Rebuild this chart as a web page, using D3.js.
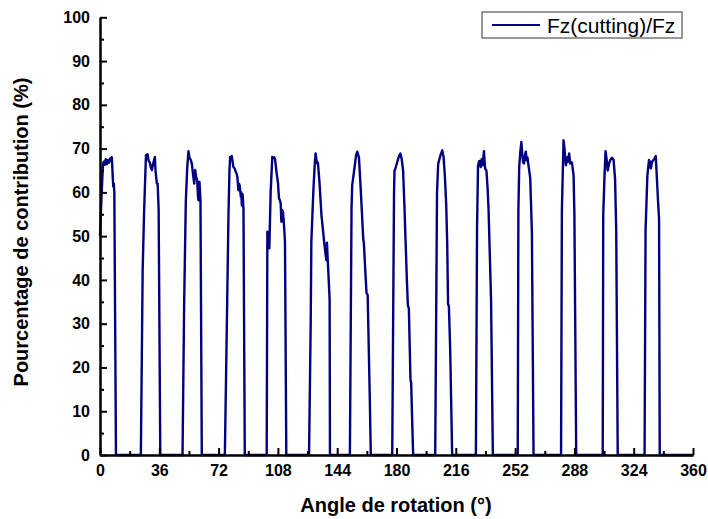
<!DOCTYPE html>
<html>
<head>
<meta charset="utf-8">
<script src="https://cdn.jsdelivr.net/npm/d3@7"></script>
<style>
  html, body { margin: 0; padding: 0; background: #fff; }
  svg { display: block; }
  text { font-family: "Liberation Sans", Arial, sans-serif; }
</style>
</head>
<body>
<svg id="chart" width="708" height="519"></svg>
<script>
// ---- Data ----
const seriesName = "Fz(cutting)/Fz";
const xLabel = "Angle de rotation (°)";
const yLabel = "Pourcentage de contribution (%)";
const xTicks = [0, 36, 72, 108, 144, 180, 216, 252, 288, 324, 360];
const xMinorTicks = [18, 54, 90, 126, 162, 198, 234, 270, 306, 342];
const yTicks = [0, 10, 20, 30, 40, 50, 60, 70, 80, 90, 100];
const yMinorTicks = [5, 15, 25, 35, 45, 55, 65, 75, 85, 95];

const angles = [
  0, 0.8, 1.8, 2.3, 2.9, 3.5, 4.2, 4.8, 5.5, 6.3, 7.2, 7.8, 8.1, 8.4, 8.7, 9.7,
  24.8, 25.9, 26.8, 27.9, 28.9, 29.5, 30.3, 30.9, 31.5, 32.2, 33.3, 33.7, 34.5, 35.0, 35.6, 36.6,
  50.1, 51.1, 52.1, 53.0, 53.7, 54.3, 55.1, 55.8, 56.5, 57.2, 57.8, 58.4, 59.0, 59.5, 59.8, 60.4, 61.0, 61.8,
  75.8, 77.0, 78.0, 78.6, 79.0, 79.5, 80.0, 80.5, 81.0, 81.7, 82.4, 83.0, 83.4, 84.0, 84.4, 84.8, 85.5, 85.8, 86.1, 86.6, 87.1, 87.9,
  101.2, 101.6, 102.2, 102.8, 103.6, 104.6, 105.3, 105.8, 106.3, 107.2, 108.1, 108.4, 108.7, 109.2, 109.7, 110.1, 110.6, 111.1, 111.7, 112.3, 113.1,
  126.9, 127.9, 128.3, 129.5, 130.3, 130.9, 131.5, 131.9, 132.3, 133.3, 134.4, 136.0, 136.9, 137.4, 137.8, 138.2, 138.6, 139.4, 139.6,
  151.7, 152.7, 153.1, 154.7, 155.5, 156.2, 156.8, 157.2, 158.2, 159.8, 160.2, 161.2, 161.8, 162.2, 162.5, 163.8, 164.4,
  177.4, 178.5, 178.8, 179.3, 180.5, 181.5, 182.4, 183.2, 184.0, 184.8, 185.5, 186.3, 186.9, 187.5, 188.5, 188.9, 190.1,
  203.5, 204.6, 205.3, 206.0, 206.8, 207.8, 208.6, 209.4, 210.2, 210.8, 211.3, 211.8, 212.6, 213.8,
  228.2, 228.9, 229.5, 230.3, 231.1, 231.7, 232.3, 233.1, 233.8, 234.6, 235.3, 235.9, 236.7, 237.4, 238.5,
  253.6, 254.0, 254.5, 255.1, 255.8, 256.4, 256.9, 257.4, 258.0, 258.5, 259.0, 259.5, 260.2, 261.2, 262.2, 263.2,
  279.9, 280.4, 281.4, 282.0, 282.4, 282.8, 283.3, 283.8, 284.3, 284.8, 285.5, 286.5, 287.5, 288.0, 289.1,
  305.2, 305.5, 306.3, 306.9, 307.6, 308.2, 309.0, 309.8, 310.8, 311.8, 312.7, 313.4, 314.3,
  330.6, 331.2, 332.3, 333.3, 333.9, 334.4, 335.2, 336.4, 337.4, 338.7, 339.4, 339.8,
  360
];
const values = [
  50, 58, 66.5, 67, 66.3, 67.6, 66.4, 67.4, 66.8, 67.8, 68, 63, 61.3, 62, 60, 0,
  0, 42.2, 56, 68.5, 68.7, 67.2, 66.8, 65.6, 65.1, 66.5, 68.1, 65, 62, 62, 56, 0,
  0, 35, 58, 66, 69.4, 68, 67.4, 66.5, 64, 62, 65.1, 63.5, 62.8, 59, 58.2, 62.4, 58.2, 0,
  0, 29.7, 55, 65, 68.1, 67.5, 68.3, 67, 65.8, 65.5, 64.7, 64.2, 63.5, 60.5, 62, 61.6, 59, 60, 57, 59.5, 56.3, 0,
  0, 51, 50, 47.2, 60.1, 68.1, 67.9, 68, 67.5, 64.5, 62, 60, 58.6, 58.2, 57.4, 53.3, 56, 55.5, 52.5, 48.7, 0,
  0, 29.7, 48.7, 60.1, 66, 68.9, 67, 66.6, 66.8, 62, 55, 49, 46, 44.5, 48.5, 45, 42, 35.5, 0,
  0, 56.3, 61.6, 66.2, 68.5, 69.3, 68.5, 68, 61.3, 49.5, 48.3, 41.1, 37, 36.8, 36.5, 12.6, 0,
  0, 60, 65, 65.4, 67, 68.3, 68.9, 67.5, 65, 57, 49, 40, 34.2, 33.5, 17.1, 16.5, 0,
  0, 60, 66.5, 67.5, 68.6, 69.6, 68, 63.5, 57, 48, 34.5, 34, 24, 0,
  0, 52, 66.2, 67.2, 65.8, 67.6, 66.2, 69.4, 65.4, 65, 61, 56, 45, 35.4, 0,
  0, 56, 65.8, 69, 71.5, 68.5, 66.8, 66.6, 68.5, 69.3, 67.3, 68, 66, 63.2, 50.7, 0,
  0, 55.9, 71.9, 70, 68, 66.2, 67, 68.1, 67, 68.9, 66.6, 66.8, 63.9, 55, 0,
  0, 54.8, 64, 69.4, 67.5, 65, 66.5, 67.4, 67.9, 67.4, 63, 51, 0,
  0, 51.4, 63.8, 67.4, 67, 65.5, 67, 67.6, 68.3, 58.5, 54, 0,
  0
];

// ---- Layout ----
const svg = d3.select("#chart");
const x = d3.scaleLinear().domain([0, 360]).range([100, 693]);
const y = d3.scaleLinear().domain([0, 100]).range([455, 17.3]);

const data = angles.map((a, i) => ({ a, v: values[i] }));

// data line
svg.append("path")
  .datum(data)
  .attr("fill", "none")
  .attr("stroke", "#000080")
  .attr("stroke-width", 2.4)
  .attr("stroke-linejoin", "round")
  .attr("d", d3.line().x(d => x(d.a)).y(d => y(d.v)));

// axes
const axisStyle = g => {
  g.selectAll("path, line").attr("stroke", "#000").attr("stroke-width", 2);
  g.selectAll("text").attr("fill", "#000").attr("font-size", 16).attr("font-weight", "bold")
    .attr("font-family", "'Liberation Sans', Arial, sans-serif");
};

svg.append("g").attr("transform", "translate(0,455)")
  .call(d3.axisBottom(x).tickValues(xMinorTicks).tickSize(-4).tickSizeOuter(0).tickFormat(""))
  .call(axisStyle);
svg.append("g").attr("transform", "translate(0,455)")
  .call(d3.axisBottom(x).tickValues(xTicks).tickSize(-7).tickSizeOuter(0).tickPadding(10).tickFormat(d3.format("d")))
  .call(axisStyle);

svg.append("g").attr("transform", "translate(100,0)")
  .call(d3.axisLeft(y).tickValues(yMinorTicks).tickSize(-4).tickSizeOuter(0).tickFormat(""))
  .call(axisStyle);
svg.append("g").attr("transform", "translate(100,0)")
  .call(d3.axisLeft(y).tickValues(yTicks).tickSize(-7).tickSizeOuter(0).tickPadding(10).tickFormat(d3.format("d")))
  .call(axisStyle);

// axis titles
svg.append("text")
  .attr("x", 396).attr("y", 512)
  .attr("text-anchor", "middle")
  .attr("font-size", 20).attr("font-weight", "bold")
  .text(xLabel);

svg.append("text")
  .attr("transform", "translate(28,232) rotate(-90)")
  .attr("text-anchor", "middle")
  .attr("font-size", 20).attr("font-weight", "bold")
  .text(yLabel);

// legend
const lg = svg.append("g");
lg.append("rect").attr("x", 482).attr("y", 12).attr("width", 200).attr("height", 26)
  .attr("fill", "#fff").attr("stroke", "#333").attr("stroke-width", 1);
lg.append("line").attr("x1", 492).attr("x2", 540).attr("y1", 25).attr("y2", 25)
  .attr("stroke", "#000080").attr("stroke-width", 2);
lg.append("text").attr("x", 547).attr("y", 32.5)
  .attr("font-size", 21).attr("fill", "#000")
  .text(seriesName);
</script>
</body>
</html>
